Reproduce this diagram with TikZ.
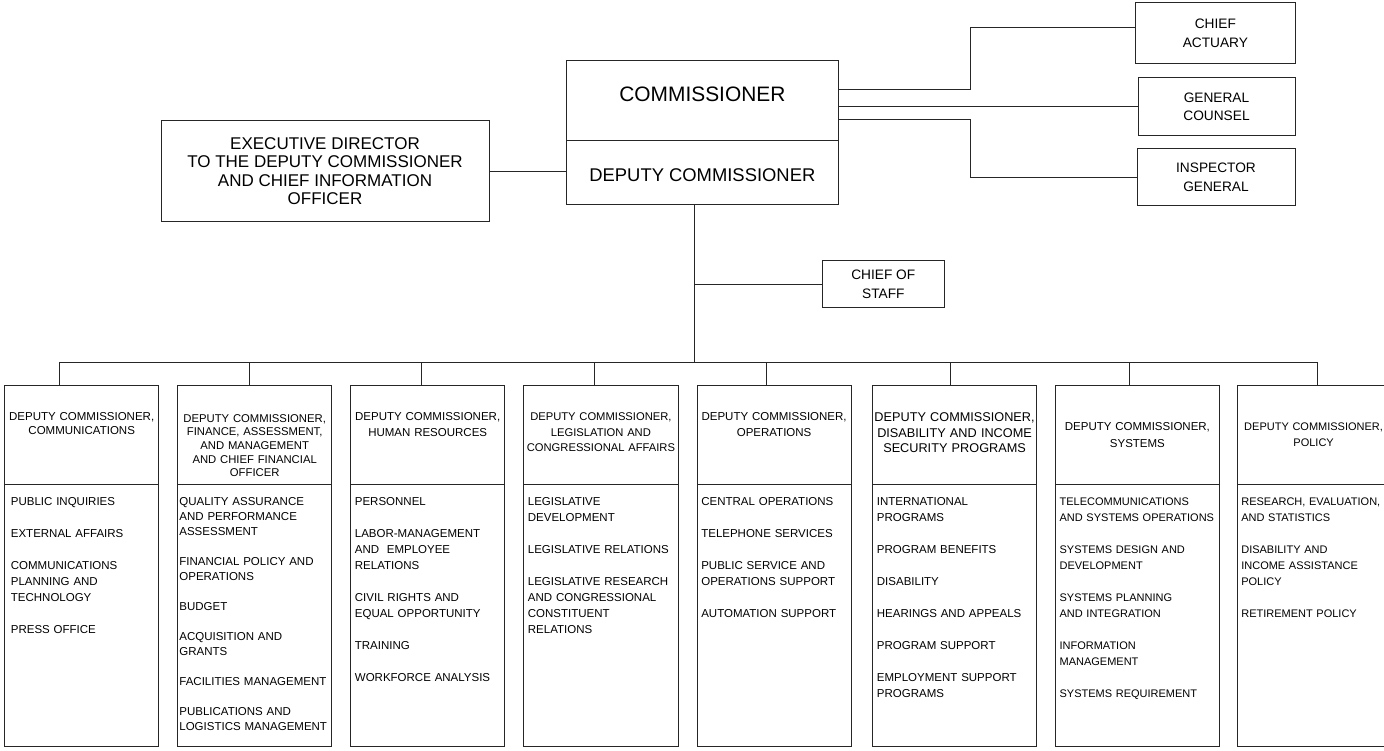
\documentclass[tikz,border=0pt]{standalone}
\usepackage{fontspec}
\setmainfont{Liberation Sans}
\usetikzlibrary{positioning}

\begin{document}
\begin{tikzpicture}[x=1pt, y=-1pt, node distance=19pt,
    box/.style={draw=black!85, line width=1pt, inner sep=0pt, outer sep=0pt, align=center},
    topbox/.style={box, font=\fontsize{13.7}{18.5}\selectfont},
    headbox/.style={draw=black!85, line width=1pt, inner sep=0pt, outer sep=0pt, minimum height=99pt, anchor=north west},
    listbox/.style={draw=black!85, line width=1pt, inner sep=0pt, outer sep=0pt, minimum height=262pt},
    headtext/.style={inner sep=0pt, text width=180pt, align=center, anchor=base, font=\fontsize{11.5}{15.8}\selectfont},
    listtext/.style={inner sep=0pt, text width=170pt, align=left, anchor=base west, font=\fontsize{11.5}{16}\selectfont},
    link/.style={draw=black!85, line width=1pt}]

    \useasboundingbox (0,0) rectangle (1384,751);

    % top of the chart
    \node [box, minimum width=272.7pt, minimum height=80.4pt, anchor=north west, text depth=13.4pt,
        font=\fontsize{20.9}{24}\selectfont] (comm) at (566,60.3) {COMMISSIONER};
    \node [box, minimum width=272.7pt, minimum height=64.3pt, below=0pt of comm, text height=18.3pt,
        font=\fontsize{18.4}{22}\selectfont] (dep) {DEPUTY COMMISSIONER};
    \node [box, minimum width=328pt, minimum height=101pt, anchor=north west,
        font=\fontsize{17}{18.3}\selectfont] (exec) at (161,120.7)
        {EXECUTIVE DIRECTOR\\TO THE DEPUTY COMMISSIONER\\AND CHIEF INFORMATION\\OFFICER};

    \node [topbox, minimum width=159.3pt, minimum height=61pt, anchor=north east] (actuary) at (1295,2.7) {CHIEF\\ACTUARY};
    \node [topbox, minimum width=157pt, minimum height=58pt, anchor=north east] (counsel) at (1295,78) {GENERAL\\COUNSEL};
    \node [topbox, minimum width=158pt, minimum height=57.3pt, anchor=north east] (inspector) at (1295,148.7) {INSPECTOR\\GENERAL};
    \node [topbox, minimum width=122pt, minimum height=46.7pt, anchor=north west] (staff) at (822.3,261) {CHIEF OF\\STAFF};

    \coordinate (fork) at (970,0);
    \coordinate (trunk) at (694.6,362.3);

    \draw [link] (comm.east |- 0,89.3) -| (fork |- 0,27.7) -- (actuary.west |- 0,27.7);
    \draw [link] (comm.east |- counsel.west) -- (counsel.west);
    \draw [link] (comm.east |- 0,119.3) -| (fork |- inspector.west) -- (inspector.west);
    \draw [link] (exec.east) -- (exec.east -| dep.west);
    \draw [link] (trunk |- dep.south) -- (trunk);
    \draw [link] (staff.west) -- (staff.west -| trunk);

    % deputy commissioner columns
    \node [headbox, minimum width=154pt] (h1) at (4.7,385.7) {};
    \node [headbox, minimum width=154pt, right=19pt of h1] (h2) {};
    \node [headbox, minimum width=154pt, right=19pt of h2] (h3) {};
    \node [headbox, minimum width=154.4pt, right=19pt of h3] (h4) {};
    \node [headbox, minimum width=154pt, right=19pt of h4] (h5) {};
    \node [headbox, minimum width=163.7pt, right=21.6pt of h5] (h6) {};
    \node [headbox, minimum width=164pt, right=19pt of h6] (h7) {};
    \node [headbox, minimum width=153pt, right=17.7pt of h7] (h8) {};

    \node [listbox, minimum width=154pt, below=0pt of h1] (b1) {};
    \node [listbox, minimum width=154pt, below=0pt of h2] (b2) {};
    \node [listbox, minimum width=154pt, below=0pt of h3] (b3) {};
    \node [listbox, minimum width=154.4pt, below=0pt of h4] (b4) {};
    \node [listbox, minimum width=154pt, below=0pt of h5] (b5) {};
    \node [listbox, minimum width=163.7pt, below=0pt of h6] (b6) {};
    \node [listbox, minimum width=164pt, below=0pt of h7] (b7) {};
    \node [listbox, minimum width=153pt, below=0pt of h8] (b8) {};

    \coordinate (d1) at (59.3,362.3);
    \coordinate (d2) at (249.3,362.3);
    \coordinate (d3) at (421.3,362.3);
    \coordinate (d4) at (594.3,362.3);
    \coordinate (d5) at (766.3,362.3);
    \coordinate (d6) at (950,362.3);
    \coordinate (d7) at (1129.3,362.3);
    \coordinate (d8) at (1317.3,362.3);

    \draw [link] (d1) -- (d8);
    \draw [link] (d1) -- (d1 |- h1.north);
    \draw [link] (d2) -- (d2 |- h2.north);
    \draw [link] (d3) -- (d3 |- h3.north);
    \draw [link] (d4) -- (d4 |- h4.north);
    \draw [link] (d5) -- (d5 |- h5.north);
    \draw [link] (d6) -- (d6 |- h6.north);
    \draw [link] (d7) -- (d7 |- h7.north);
    \draw [link] (d8) -- (d8 |- h8.north);

    % column titles
    \node [headtext, font=\fontsize{11.5}{14}\selectfont] (t1) at ([yshift=-35pt]h1.north) {DEPUTY COMMISSIONER,\\COMMUNICATIONS};
    \node [headtext, font=\fontsize{11.3}{13.6}\selectfont] (t2) at ([yshift=-36.5pt]h2.north) {DEPUTY COMMISSIONER,\\FINANCE, ASSESSMENT,\\AND MANAGEMENT\\AND CHIEF FINANCIAL\\OFFICER};
    \node [headtext] (t3) at ([yshift=-35pt]h3.north) {DEPUTY COMMISSIONER,\\HUMAN RESOURCES};
    \node [headtext, font=\fontsize{11.2}{15.3}\selectfont] (t4) at ([yshift=-35pt]h4.north) {DEPUTY COMMISSIONER,\\LEGISLATION AND\\CONGRESSIONAL AFFAIRS};
    \node [headtext] (t5) at ([yshift=-35pt]h5.north) {DEPUTY COMMISSIONER,\\OPERATIONS};
    \node [headtext, font=\fontsize{12.7}{15.8}\selectfont] (t6) at ([yshift=-35.5pt]h6.north) {DEPUTY COMMISSIONER,\\DISABILITY AND INCOME\\SECURITY PROGRAMS};
    \node [headtext, font=\fontsize{11.5}{16.6}\selectfont] (t7) at ([yshift=-45pt]h7.north) {DEPUTY COMMISSIONER,\\SYSTEMS};
    \node [headtext, font=\fontsize{11}{15.6}\selectfont] (t8) at ([yshift=-45pt]h8.north) {DEPUTY COMMISSIONER,\\POLICY};

    % offices under each deputy
    \node [listtext] (l1) at ([xshift=6pt, yshift=-21pt]b1.north west)
        {PUBLIC INQUIRIES\\[16pt]EXTERNAL AFFAIRS\\[16pt]COMMUNICATIONS\\PLANNING AND\\TECHNOLOGY\\[16pt]PRESS OFFICE};
    \node [listtext, font=\fontsize{11.5}{15}\selectfont] (l2) at ([xshift=1.5pt, yshift=-21pt]b2.north west)
        {QUALITY ASSURANCE\\AND PERFORMANCE\\ASSESSMENT\\[15pt]FINANCIAL POLICY AND\\OPERATIONS\\[15pt]BUDGET\\[15pt]ACQUISITION AND\\GRANTS\\[15pt]FACILITIES MANAGEMENT\\[15pt]PUBLICATIONS AND\\LOGISTICS MANAGEMENT};
    \node [listtext] (l3) at ([xshift=4pt, yshift=-21pt]b3.north west)
        {PERSONNEL\\[16pt]LABOR-MANAGEMENT\\AND\ \ EMPLOYEE\\RELATIONS\\[16pt]CIVIL RIGHTS AND\\EQUAL OPPORTUNITY\\[16pt]TRAINING\\[16pt]WORKFORCE ANALYSIS};
    \node [listtext] (l4) at ([xshift=4pt, yshift=-21pt]b4.north west)
        {LEGISLATIVE\\DEVELOPMENT\\[16pt]LEGISLATIVE RELATIONS\\[16pt]LEGISLATIVE RESEARCH\\AND CONGRESSIONAL\\CONSTITUENT\\RELATIONS};
    \node [listtext] (l5) at ([xshift=4pt, yshift=-21pt]b5.north west)
        {CENTRAL OPERATIONS\\[16pt]TELEPHONE SERVICES\\[16pt]PUBLIC SERVICE AND\\OPERATIONS SUPPORT\\[16pt]AUTOMATION SUPPORT};
    \node [listtext] (l6) at ([xshift=4pt, yshift=-21pt]b6.north west)
        {INTERNATIONAL\\PROGRAMS\\[16pt]PROGRAM BENEFITS\\[16pt]DISABILITY\\[16pt]HEARINGS AND APPEALS\\[16pt]PROGRAM SUPPORT\\[16pt]EMPLOYMENT SUPPORT\\PROGRAMS};
    \node [listtext, font=\fontsize{11}{16}\selectfont] (l7) at ([xshift=4pt, yshift=-21pt]b7.north west)
        {TELECOMMUNICATIONS\\AND SYSTEMS OPERATIONS\\[16pt]SYSTEMS DESIGN AND\\DEVELOPMENT\\[16pt]SYSTEMS PLANNING\\AND INTEGRATION\\[16pt]INFORMATION\\MANAGEMENT\\[16pt]SYSTEMS REQUIREMENT};
    \node [listtext, font=\fontsize{11}{16}\selectfont] (l8) at ([xshift=4pt, yshift=-21pt]b8.north west)
        {RESEARCH, EVALUATION,\\AND STATISTICS\\[16pt]DISABILITY AND\\INCOME ASSISTANCE\\POLICY\\[16pt]RETIREMENT POLICY};
\end{tikzpicture}
\end{document}
